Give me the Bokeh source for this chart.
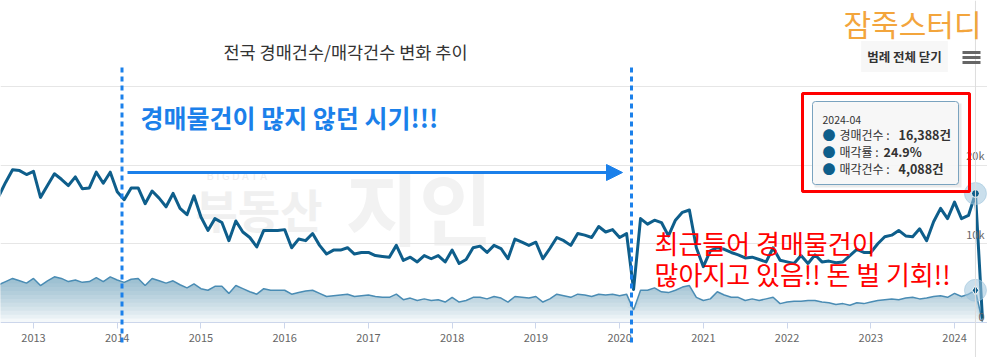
import numpy as np
from bokeh.plotting import figure
from bokeh.models import (FixedTicker, Range1d, Span, Label, BoxAnnotation,
                          Arrow, NormalHead)
from bokeh.core.properties import value
from bokeh.embed import file_html
from bokeh.resources import INLINE

FONT = "Noto Sans CJK KR"

# ---------------- data (monthly, 2012-08 .. 2024-05), values in thousands ----------------
start_year, start_month = 2012, 8

auction_2012 = [16.0, 17.8, 19.4, 19.3, 18.8]
auction_2013 = [19.2, 15.9, 17.4, 18.9, 18.2, 17.4, 18.5, 17.0, 17.1, 19.1, 17.7, 19.1]
auction_2014 = [16.6, 15.6, 17.1, 17.1, 15.1, 16.7, 15.8, 14.7, 16.4, 14.5, 13.7, 16.1]
auction_2015 = [13.4, 11.7, 13.2, 12.7, 10.4, 12.9, 11.5, 10.8, 9.6, 11.7, 11.7, 11.7]
auction_2016 = [11.8, 9.5, 10.6, 10.4, 11.3, 9.8, 8.7, 9.2, 9.2, 9.5, 8.7, 8.9]
auction_2017 = [8.9, 8.5, 8.4, 8.3, 9.8, 7.9, 8.3, 7.7, 8.5, 8.1, 8.5, 7.7]
auction_2018 = [9.2, 7.5, 8.0, 9.5, 9.7, 8.9, 9.8, 9.4, 8.1, 10.6, 10.2, 9.8]
auction_2019 = [10.2, 8.1, 9.4, 10.8, 10.4, 9.8, 11.3, 11.1, 10.8, 12.2, 11.5, 11.8]
auction_2020 = [10.8, 11.3, 4.2, 13.2, 12.5, 13.0, 12.7, 11.0, 13.0, 14.0, 14.3, 9.5]
auction_2021 = [7.1, 9.1, 9.5, 9.3, 8.9, 8.6, 8.2, 8.3, 8.0, 7.7, 9.5, 7.9]
auction_2022 = [7.7, 7.5, 8.5, 7.5, 8.6, 7.7, 7.8, 7.6, 7.7, 8.5, 9.3, 8.9]
auction_2023 = [8.9, 10.0, 10.9, 11.1, 11.7, 11.0, 10.9, 11.9, 10.4, 12.8, 14.5, 13.2]
auction_2024 = [15.3, 13.2, 13.6, 16.388, 0.5]

sold_2012 = [4.8, 5.2, 5.6, 5.3, 5.0]
sold_2013 = [5.6, 4.7, 5.3, 5.8, 5.6, 5.2, 5.4, 5.1, 5.2, 5.7, 5.2, 5.8]
sold_2014 = [5.4, 5.1, 5.5, 5.6, 4.7, 5.6, 5.3, 5.0, 5.3, 4.8, 4.4, 4.9]
sold_2015 = [4.3, 4.1, 4.6, 4.6, 3.7, 4.7, 4.3, 3.9, 3.6, 4.3, 4.1, 4.1]
sold_2016 = [4.1, 3.6, 3.8, 4.0, 4.1, 3.7, 3.3, 3.4, 3.5, 3.6, 3.3, 3.4]
sold_2017 = [3.5, 3.3, 3.2, 3.2, 3.6, 2.9, 3.1, 2.8, 3.0, 2.8, 2.9, 2.6]
sold_2018 = [3.2, 2.6, 2.8, 3.2, 3.2, 3.0, 3.3, 3.1, 2.6, 3.3, 3.2, 3.1]
sold_2019 = [3.3, 2.6, 3.0, 3.6, 3.4, 3.2, 3.6, 3.5, 3.3, 3.6, 3.5, 3.6]
sold_2020 = [3.4, 3.6, 1.6, 4.1, 4.1, 4.4, 3.9, 3.8, 4.1, 4.5, 4.7, 3.2]
sold_2021 = [2.8, 3.0, 3.9, 3.5, 3.2, 3.2, 2.8, 3.0, 2.8, 3.0, 3.2, 2.4]
sold_2022 = [2.6, 2.7, 2.7, 2.8, 2.8, 2.6, 2.5, 2.3, 2.4, 2.2, 2.5, 2.4]
sold_2023 = [2.6, 2.8, 2.9, 3.0, 2.9, 3.1, 3.2, 3.0, 3.1, 3.3, 3.4, 3.2]
sold_2024 = [3.7, 3.3, 3.6, 4.088, 0.1]

year_ticks = list(range(2013, 2025))
year_labels = [str(y) for y in year_ticks]
y_ticks = [0, 10000, 20000]
y_labels = ["0", "10k", "20k"]

tip_month = "2024-04"
tip_rows = [("경매건수 : ", "16,388건"), ("매각률 : ", "24.9%"), ("매각건수 : ", "4,088건")]
tip_index = 140  # 2024-04

# ---------------- build ----------------
auction = np.array(auction_2012 + auction_2013 + auction_2014 + auction_2015 + auction_2016 +
                   auction_2017 + auction_2018 + auction_2019 + auction_2020 + auction_2021 +
                   auction_2022 + auction_2023 + auction_2024) * 1000
sold = np.array(sold_2012 + sold_2013 + sold_2014 + sold_2015 + sold_2016 + sold_2017 +
                sold_2018 + sold_2019 + sold_2020 + sold_2021 + sold_2022 + sold_2023 +
                sold_2024) * 1000
n = len(auction)
xs = np.array([start_year + (start_month - 1 + i) / 12 for i in range(n)])

# layout helpers: reference pixel -> data coordinates
def rx(px):
    return 2013 + (px - 33) / 83.73

def ry(py):
    return (322 - py) / 7.87 * 1000

BLUE = "#1b80ea"
DARK = "#0e5e8b"
LIGHT = "#4a8cb4"

W, H = 987, 357
p = figure(width=W, height=H, output_backend="svg", toolbar_location=None,
           x_range=Range1d(rx(0), rx(W)), y_range=Range1d(ry(H), ry(0)),
           y_axis_location=None, min_border=0, min_border_left=0, min_border_right=0,
           min_border_top=0, min_border_bottom=0, outline_line_color=None,
           background_fill_color="white", border_fill_color="white")
p.title.visible = False

# grid / axis
p.xgrid.visible = False
p.ygrid.ticker = FixedTicker(ticks=[10000, 20000, 30000])
p.ygrid.grid_line_color = "#e6e6e6"
ax = p.xaxis[0]
ax.fixed_location = 0
ax.ticker = FixedTicker(ticks=year_ticks)
ax.major_label_overrides = {float(t): l for t, l in zip(year_ticks, year_labels)}
ax.axis_line_color = "#ccd6eb"
ax.major_tick_line_color = "#ccd6eb"
ax.major_tick_in = 0
ax.major_tick_out = 6
ax.minor_tick_in = 0
ax.minor_tick_out = 0
ax.major_label_standoff = 5
ax.major_label_text_font = FONT
ax.major_label_text_font_size = "11px"
ax.major_label_text_color = "#666666"

# faint watermark
p.text(x=[rx(206)], y=[ry(174)], text=["B I G D A T A"], text_font=value(FONT),
       text_font_size="11px", text_color="#ededed", text_baseline="middle", level="underlay")
p.text(x=[rx(195)], y=[ry(207)], text=["부동산"], text_font=value(FONT),
       text_font_size="46px", text_font_style="bold", text_color="#f0f0f0",
       text_baseline="middle", level="underlay")
p.text(x=[rx(345)], y=[ry(203)], text=["지인"], text_font=value(FONT),
       text_font_size="80px", text_font_style="bold", text_color="#f2f2f2",
       text_baseline="middle", level="underlay")

# area (gradient emulated with stacked translucent layers)
for lvl in np.arange(0, 6001, 500):
    p.varea(x=xs, y1=np.minimum(lvl, sold), y2=sold, fill_color="#3d7ea6", fill_alpha=0.055)
p.line(xs, sold, line_color=LIGHT, line_width=1.5)
p.line(xs, auction, line_color=DARK, line_width=3, line_join="round")

# crosshair
p.add_layout(Span(location=xs[tip_index], dimension="height", line_color="#dddddd", line_width=1))

# hover markers
p.scatter([xs[tip_index]], [auction[tip_index]], size=22, color="#9fc4dc", alpha=0.55)
p.scatter([xs[tip_index]], [auction[tip_index]], size=8, fill_color=DARK, line_color="white")
p.scatter([xs[tip_index]], [sold[tip_index]], size=22, color="#9fc4dc", alpha=0.55)
p.scatter([xs[tip_index]], [sold[tip_index]], size=10, marker="diamond", fill_color=DARK, line_color="white")

# y labels inside plot, right side
p.text(x=[rx(984)] * 3, y=y_ticks, text=y_labels, text_align="right", text_baseline="bottom",
       y_offset=-2, text_font=value(FONT), text_font_size="11px", text_color="#666666")

# annotations: dotted lines, arrow
for px in (121.5, 631):
    p.add_layout(Arrow(end=None, x_start=rx(px), y_start=ry(67), x_end=rx(px), y_end=ry(345),
                       line_color=BLUE, line_width=3, line_dash="5 4"))
p.add_layout(Arrow(end=NormalHead(size=16, fill_color=BLUE, line_color=BLUE),
                   x_start=rx(127), y_start=ry(172), x_end=rx(622), y_end=ry(172),
                   line_color=BLUE, line_width=3))

p.add_layout(Label(x=rx(140), y=ry(116), text="경매물건이 많지 않던 시기!!!", text_font=FONT,
                   text_font_size="25px", text_font_style="bold", text_color=BLUE,
                   text_baseline="middle"))
p.add_layout(Label(x=rx(654), y=ry(242), text="최근들어 경매물건이", text_font=FONT,
                   text_font_size="26px", text_color="#ff0000", text_baseline="middle"))
p.add_layout(Label(x=rx(654), y=ry(273), text="많아지고 있음!! 돈 벌 기회!!", text_font=FONT,
                   text_font_size="26px", text_color="#ff0000", text_baseline="middle"))

# header texts
p.add_layout(Label(x=rx(223), y=ry(51), text="전국 경매건수/매각건수 변화 추이", text_font=FONT,
                   text_font_size="17.5px", text_color="#333333", text_baseline="middle"))
p.add_layout(Label(x=rx(843), y=ry(22), text="잠죽스터디", text_font=FONT,
                   text_font_size="30px", text_color="#f3a53c", text_baseline="middle"))
p.add_layout(Label(x=rx(904), y=ry(56), text="범례 전체 닫기", text_font=FONT,
                   text_font_size="12.5px", text_font_style="bold", text_color="#333333",
                   text_align="center", text_baseline="middle",
                   background_fill_color="#f7f7f7", padding=6))
for py in (52, 57, 62):
    p.add_layout(Arrow(end=None, x_start=rx(962), y_start=ry(py), x_end=rx(980), y_end=ry(py),
                       line_color="#666666", line_width=3))

# tooltip
p.add_layout(BoxAnnotation(left=rx(814), right=rx(961), top=ry(103), bottom=ry(187),
                           fill_color="black", fill_alpha=0.08, line_alpha=0))
p.add_layout(BoxAnnotation(left=rx(812), right=rx(958), top=ry(101), bottom=ry(184),
                           fill_color="#f7f7f7", fill_alpha=0.93, line_color="#7aa3bf",
                           line_alpha=1, line_width=1, border_radius=3))
p.add_layout(Label(x=rx(822), y=ry(119), text=tip_month, text_font=FONT, text_font_size="10.5px",
                   text_color="#333333", text_baseline="middle"))
value_x = [898, 883, 898]
for i, (lab, val) in enumerate(tip_rows):
    yy = ry(134 + 17 * i)
    p.add_layout(Label(x=rx(822), y=yy, text="●", text_font=FONT, text_font_size="13px",
                       text_color=DARK, text_baseline="middle"))
    p.add_layout(Label(x=rx(839), y=yy, text=lab, text_font=FONT, text_font_size="12px",
                       text_color="#333333", text_baseline="middle"))
    p.add_layout(Label(x=rx(value_x[i]), y=yy, text=val, text_font=FONT, text_font_size="12.5px",
                       text_font_style="bold", text_color="#333333", text_baseline="middle"))
p.add_layout(BoxAnnotation(left=rx(802), right=rx(969), top=ry(93), bottom=ry(191),
                           fill_alpha=0, line_color="#ff0000", line_alpha=1, line_width=3))

open("out.html", "w").write(file_html(p, INLINE))
